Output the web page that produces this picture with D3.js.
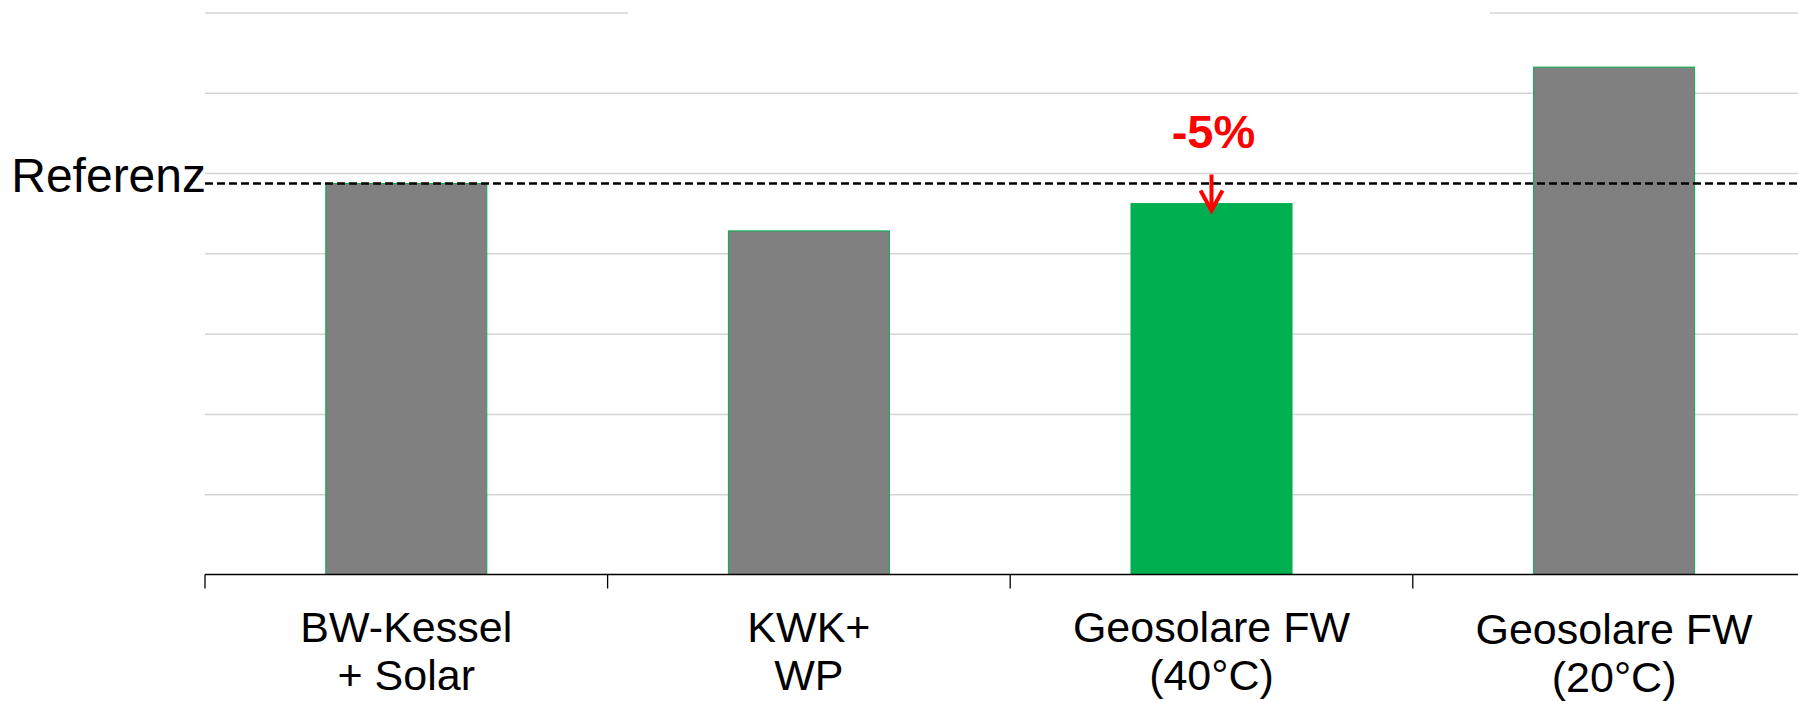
<!DOCTYPE html>
<html>
<head>
<meta charset="utf-8">
<script src="https://cdn.jsdelivr.net/npm/d3@7"></script>
<style>
  body { margin: 0; background: #ffffff; }
  svg { display: block; font-family: "Liberation Sans", Arial, sans-serif; }
  .grid line { stroke: #d4d4d4; stroke-width: 1.5; }
  .grid .domain { display: none; }
</style>
</head>
<body>
<svg id="chart"></svg>
<script>
// Data
let categories = ["BW-Kessel|+ Solar", "KWK+|WP", "Geosolare FW|(40°C)", "Geosolare FW|(20°C)"];
let values = [4.87, 4.28, 4.62, 6.32];
let highlight = [false, false, true, false];
let referenceValue = 4.87;
let referenceLabel = "Referenz";
let deltaLabel = "-5%";
let gridTicks = [1, 2, 3, 4, 5, 6, 7];

/** Class drawing the bar chart. */
class BarChart {
  constructor() {
    this.width = 1798;
    this.height = 701;
    // plot area; the 4th category runs past the right edge like in the original
    this.margin = { left: 205, top: 12.5, bottom: 574.5 };
    this.bandWidth = 402.6;

    this.svg = d3.select('#chart')
      .attr('width', this.width)
      .attr('height', this.height);

    this.x = d3.scaleBand()
      .domain(categories)
      .range([this.margin.left, this.margin.left + this.bandWidth * categories.length])
      .paddingInner(0)
      .paddingOuter(0);

    // bars are 40% of the category width
    this.xBar = d3.scaleBand()
      .domain(categories)
      .range(this.x.range())
      .paddingInner(0.6)
      .paddingOuter(0.3);

    this.y = d3.scaleLinear()
      .domain([0, 7])
      .range([this.margin.bottom, this.margin.top]);
  }

  draw() {
    let svg = this.svg;

    // horizontal gridlines
    svg.append('g')
      .attr('class', 'grid')
      .attr('transform', `translate(${this.margin.left},0)`)
      .call(d3.axisLeft(this.y).tickValues(gridTicks)
        .tickSize(-(this.width - this.margin.left)).tickFormat(''));

    // the top gridline is hidden behind an (empty) title box
    svg.append('rect')
      .attr('x', 628).attr('y', 0)
      .attr('width', 1490 - 628).attr('height', 24)
      .attr('fill', '#ffffff');

    // bars
    svg.append('g')
      .selectAll('rect')
      .data(values)
      .join('rect')
      .attr('x', (d, i) => this.xBar(categories[i]))
      .attr('y', d => this.y(d))
      .attr('width', this.xBar.bandwidth())
      .attr('height', d => this.y(0) - this.y(d))
      .attr('fill', (d, i) => highlight[i] ? '#00b050' : '#808080')
      .attr('stroke', '#00b050')
      .attr('stroke-width', 1);

    // category axis
    let xAxis = svg.append('g')
      .attr('transform', `translate(0,${this.margin.bottom})`);
    xAxis.append('line')
      .attr('x1', this.margin.left).attr('x2', this.width)
      .attr('stroke', '#000').attr('stroke-width', 1.3);
    xAxis.selectAll('.tick')
      .data(categories)
      .join('line')
      .attr('class', 'tick')
      .attr('x1', d => this.x(d)).attr('x2', d => this.x(d))
      .attr('y1', 0).attr('y2', 14)
      .attr('stroke', '#000').attr('stroke-width', 1.3);

    let labels = svg.append('g')
      .selectAll('text')
      .data(categories)
      .join('text')
      .attr('x', d => this.x(d) + this.x.bandwidth() / 2)
      .attr('y', (d, i) => i == 3 ? 644 : 642)
      .attr('text-anchor', 'middle')
      .attr('font-size', 43)
      .attr('fill', '#000');
    labels.selectAll('tspan')
      .data(d => d.split('|'))
      .join('tspan')
      .attr('x', function() { return d3.select(this.parentNode).attr('x'); })
      .attr('dy', (d, i) => i == 0 ? 0 : 48)
      .text(d => d);

    // reference line
    let yRef = this.y(referenceValue);
    svg.append('line')
      .attr('x1', this.margin.left).attr('x2', this.width)
      .attr('y1', yRef).attr('y2', yRef)
      .attr('stroke', '#000')
      .attr('stroke-width', 2.6)
      .attr('stroke-dasharray', '8,4');
    svg.append('text')
      .attr('x', this.margin.left + 1)
      .attr('y', yRef + 8)
      .attr('text-anchor', 'end')
      .attr('font-size', 48)
      .attr('fill', '#000')
      .text(referenceLabel);

    // delta annotation over the highlighted bar
    let hi = highlight.indexOf(true);
    let cx = this.x(categories[hi]) + this.x.bandwidth() / 2;
    let tip = this.y(values[hi]) + 8;
    svg.append('text')
      .attr('x', cx + 2)
      .attr('y', 148)
      .attr('text-anchor', 'middle')
      .attr('font-size', 47)
      .attr('font-weight', 'bold')
      .attr('fill', '#ff0000')
      .text(deltaLabel);
    svg.append('line')
      .attr('x1', cx).attr('x2', cx)
      .attr('y1', yRef - 9).attr('y2', tip - 2)
      .attr('stroke', '#ff0000').attr('stroke-width', 4);
    svg.append('path')
      .attr('d', d3.line()([[cx - 11, tip - 21], [cx, tip - 1], [cx + 11, tip - 21]]))
      .attr('fill', 'none')
      .attr('stroke', '#ff0000')
      .attr('stroke-width', 4);
  }
}

let chart = new BarChart();
chart.draw();
</script>
</body>
</html>
